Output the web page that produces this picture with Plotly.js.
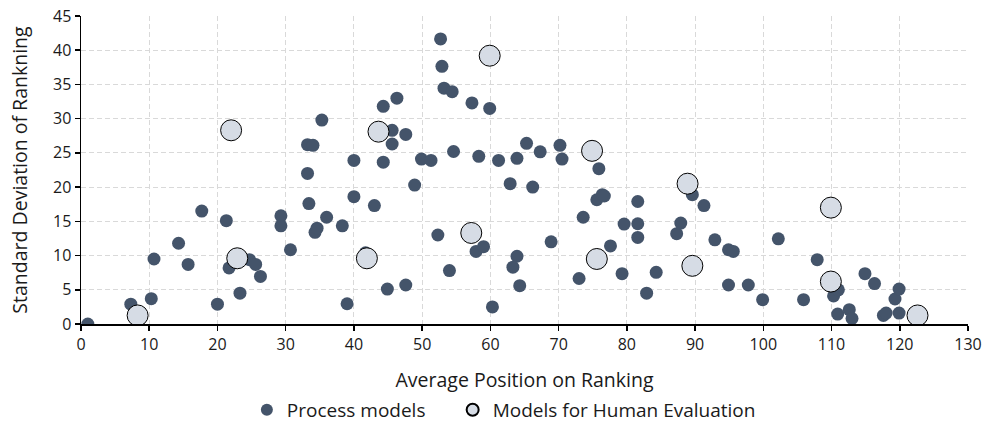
<!DOCTYPE html>
<html>
<head>
<meta charset="utf-8">
<script src="https://cdn.plot.ly/plotly-3.0.1.min.js"></script>
<style>html,body{margin:0;padding:0;background:#fff;}#chart{width:983px;height:432px;}</style>
</head>
<body>
<div id="chart"></div>
<script>
const processX = [1.0,7.3,10.3,10.7,14.3,15.7,17.7,20.0,21.3,21.7,23.3,24.7,25.6,26.3,29.3,29.3,30.7,33.2,34.0,33.2,33.4,34.3,34.6,35.3,36.0,38.3,39.0,40.0,40.0,41.7,43.0,44.3,44.3,44.9,45.6,45.6,46.3,47.6,47.6,48.9,49.9,51.3,52.3,52.7,52.9,53.2,54.4,54.0,54.6,57.3,57.9,59.0,58.3,59.9,60.3,61.2,62.9,63.9,63.9,63.3,64.3,65.3,66.2,67.3,68.9,70.2,70.5,73.0,73.6,75.9,75.6,76.4,76.7,77.6,79.3,79.6,81.6,81.6,81.6,82.9,84.3,87.3,87.9,89.6,91.3,92.9,94.9,95.6,94.9,97.8,99.9,102.2,105.9,107.9,110.3,111.0,110.9,112.6,113.0,114.9,116.3,117.6,118.0,119.3,119.9,119.9];
const processY = [0,2.9,3.7,9.5,11.8,8.7,16.5,2.9,15.1,8.2,4.5,9.4,8.7,6.95,15.8,14.35,10.85,26.2,26.1,22.0,17.6,13.4,14.0,29.8,15.6,14.35,2.96,23.9,18.6,10.4,17.3,31.8,23.65,5.1,28.3,26.3,33.0,27.7,5.7,20.3,24.1,23.9,13.0,41.65,37.65,34.45,33.95,7.8,25.2,32.3,10.6,11.3,24.5,31.5,2.5,23.9,20.5,24.2,9.9,8.3,5.6,26.4,20.0,25.15,12.0,26.1,24.1,6.65,15.6,22.7,18.15,18.9,18.7,11.4,7.35,14.6,17.9,14.65,12.65,4.5,7.55,13.2,14.75,18.9,17.3,12.3,10.85,10.6,5.7,5.7,3.55,12.45,3.55,9.4,4.1,5.0,1.45,2.1,0.8,7.35,5.9,1.25,1.6,3.65,5.1,1.6];
const humanX = [8.3,22.0,22.9,41.9,43.6,57.2,59.9,74.9,75.6,88.9,89.6,109.9,109.9,122.6];
const humanY = [1.25,28.3,9.6,9.6,28.1,13.3,39.2,25.3,9.5,20.5,8.5,17.0,6.2,1.25];
const xTicks = [0,10,20,30,40,50,60,70,80,90,100,110,120,130];
const yTicks = [0,5,10,15,20,25,30,35,40,45];

const FONT = '"Open Sans", Lato, sans-serif';
const TXT = '#1a1a1a';
const traces = [
  {type:'scatter', mode:'markers', name:'Process models', x:processX, y:processY, legend:'legend',
   marker:{color:'#44546A', size:13, line:{width:0}}},
  {type:'scatter', mode:'markers', name:'Models for Human Evaluation', x:humanX, y:humanY, legend:'legend2',
   marker:{color:'#D6DCE5', size:21, line:{color:'#000', width:1}}}
];
const axisCommon = {
  showline:true, linecolor:'#000', linewidth:1.5, ticks:'outside', ticklen:5, tickcolor:'#000', tickwidth:1.5,
  showgrid:true, gridcolor:'#d9d9d9', gridwidth:1, griddash:'5px,3px', zeroline:false,
  tickfont:{family:FONT, size:16, color:TXT}
};
const legendCommon = {orientation:'h', xanchor:'left', y:-0.279, yanchor:'middle', itemsizing:'constant',
  font:{family:FONT, size:19, color:TXT}, itemwidth:30, bgcolor:'rgba(0,0,0,0)', borderwidth:0};
const layout = {
  width:983, height:432,
  margin:{l:81, r:15, t:16, b:108, autoexpand:false},
  paper_bgcolor:'#fff', plot_bgcolor:'#fff',
  showlegend:true,
  legend:Object.assign({}, legendCommon, {x:0.187}),
  legend2:Object.assign({}, legendCommon, {x:0.419}),
  xaxis:Object.assign({}, axisCommon, {automargin:true, range:[0,130], tickvals:xTicks, ticktext:xTicks.map(String),
     title:{text:'Average Position on Ranking', font:{family:FONT, size:19.5, color:TXT}, standoff:19}}),
  yaxis:Object.assign({}, axisCommon, {automargin:true, range:[0,45], tickvals:yTicks, ticktext:yTicks.map(String),
     title:{text:'Standard Deviation of Rankning', font:{family:FONT, size:19.5, color:TXT}, standoff:20}}),
  font:{family:FONT}
};
Plotly.newPlot('chart', traces, layout, {displayModeBar:false, staticPlot:true});
</script>
</body>
</html>
